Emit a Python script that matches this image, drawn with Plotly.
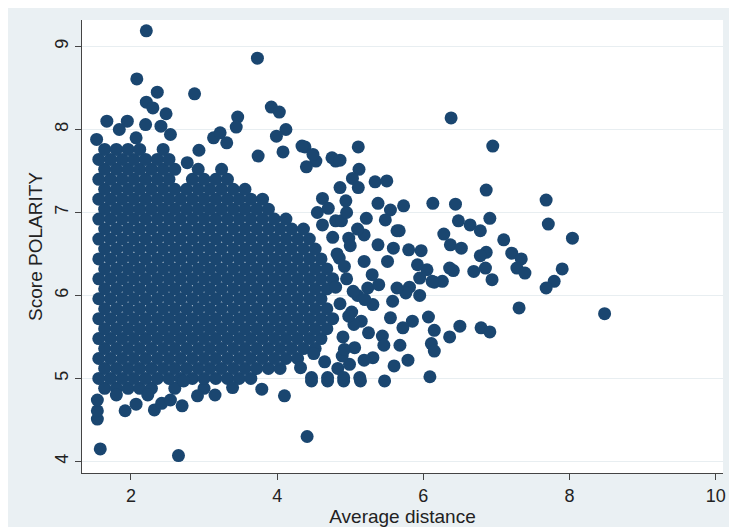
import plotly.graph_objects as go

core_rows = {
    4.88: [1.64, 1.8, 1.96, 2.12, 2.28, 2.6, 3.0],
    5.00: [1.56, 1.72, 1.88, 2.04, 2.2, 2.36, 2.52, 2.68, 2.84, 3.0, 3.16, 3.32, 3.48, 3.64],
    5.12: [1.64, 1.8, 1.96, 2.12, 2.28, 2.44, 2.6, 2.76, 2.92, 3.08, 3.24, 3.4, 3.56, 3.72, 3.88, 4.04],
    5.24: [1.56, 1.72, 1.88, 2.04, 2.2, 2.36, 2.52, 2.68, 2.84, 3.0, 3.16, 3.32, 3.48, 3.64, 3.8, 3.96, 4.12, 4.28],
    5.36: [1.64, 1.8, 1.96, 2.12, 2.28, 2.44, 2.6, 2.76, 2.92, 3.08, 3.24, 3.4, 3.56, 3.72, 3.88, 4.04, 4.2, 4.36, 4.52],
    5.48: [1.56, 1.72, 1.88, 2.04, 2.2, 2.36, 2.52, 2.68, 2.84, 3.0, 3.16, 3.32, 3.48, 3.64, 3.8, 3.96, 4.12, 4.28, 4.44, 4.6],
    5.60: [1.64, 1.8, 1.96, 2.12, 2.28, 2.44, 2.6, 2.76, 2.92, 3.08, 3.24, 3.4, 3.56, 3.72, 3.88, 4.04, 4.2, 4.36, 4.52, 4.68],
    5.72: [1.56, 1.72, 1.88, 2.04, 2.2, 2.36, 2.52, 2.68, 2.84, 3.0, 3.16, 3.32, 3.48, 3.64, 3.8, 3.96, 4.12, 4.28, 4.44, 4.6, 4.76],
    5.84: [1.64, 1.8, 1.96, 2.12, 2.28, 2.44, 2.6, 2.76, 2.92, 3.08, 3.24, 3.4, 3.56, 3.72, 3.88, 4.04, 4.2, 4.36, 4.52, 4.68],
    5.96: [1.56, 1.72, 1.88, 2.04, 2.2, 2.36, 2.52, 2.68, 2.84, 3.0, 3.16, 3.32, 3.48, 3.64, 3.8, 3.96, 4.12, 4.28, 4.44, 4.6],
    6.08: [1.64, 1.8, 1.96, 2.12, 2.28, 2.44, 2.6, 2.76, 2.92, 3.08, 3.24, 3.4, 3.56, 3.72, 3.88, 4.04, 4.2, 4.36, 4.52, 4.68],
    6.20: [1.56, 1.72, 1.88, 2.04, 2.2, 2.36, 2.52, 2.68, 2.84, 3.0, 3.16, 3.32, 3.48, 3.64, 3.8, 3.96, 4.12, 4.28, 4.44, 4.6, 4.76],
    6.32: [1.64, 1.8, 1.96, 2.12, 2.28, 2.44, 2.6, 2.76, 2.92, 3.08, 3.24, 3.4, 3.56, 3.72, 3.88, 4.04, 4.2, 4.36, 4.52, 4.68],
    6.44: [1.56, 1.72, 1.88, 2.04, 2.2, 2.36, 2.52, 2.68, 2.84, 3.0, 3.16, 3.32, 3.48, 3.64, 3.8, 3.96, 4.12, 4.28, 4.44, 4.6],
    6.56: [1.64, 1.8, 1.96, 2.12, 2.28, 2.44, 2.6, 2.76, 2.92, 3.08, 3.24, 3.4, 3.56, 3.72, 3.88, 4.04, 4.2, 4.36, 4.52],
    6.68: [1.56, 1.72, 1.88, 2.04, 2.2, 2.36, 2.52, 2.68, 2.84, 3.0, 3.16, 3.32, 3.48, 3.64, 3.8, 3.96, 4.12, 4.28, 4.44],
    6.80: [1.64, 1.8, 1.96, 2.12, 2.28, 2.44, 2.6, 2.76, 2.92, 3.08, 3.24, 3.4, 3.56, 3.72, 3.88, 4.04, 4.2, 4.36],
    6.92: [1.56, 1.72, 1.88, 2.04, 2.2, 2.36, 2.52, 2.68, 2.84, 3.0, 3.16, 3.32, 3.48, 3.64, 3.8, 3.96, 4.12],
    7.04: [1.64, 1.8, 1.96, 2.12, 2.28, 2.44, 2.6, 2.76, 2.92, 3.08, 3.24, 3.4, 3.56, 3.72, 3.88],
    7.16: [1.56, 1.72, 1.88, 2.04, 2.2, 2.36, 2.52, 2.68, 2.84, 3.0, 3.16, 3.32, 3.48, 3.64, 3.8],
    7.28: [1.64, 1.8, 1.96, 2.12, 2.28, 2.44, 2.6, 2.76, 2.92, 3.08, 3.24, 3.4, 3.56],
    7.40: [1.56, 1.72, 1.88, 2.04, 2.2, 2.36, 2.52, 2.84, 3.0, 3.16, 3.32],
    7.52: [1.64, 1.8, 1.96, 2.12, 2.28, 2.44, 2.6, 2.92, 3.24],
    7.64: [1.56, 1.72, 1.88, 2.04, 2.2, 2.36, 2.52],
    7.76: [1.64, 1.8, 1.96, 2.12, 2.44],
}

# Scattered points outside the solid area (x, y)
scatter_x = [
    6.38, 6.95, 6.86, 7.68, 6.13, 6.44, 6.91, 7.71, 6.48, 6.64, 6.78, 6.28, 8.04, 7.10, 6.37,
    6.52, 7.21, 7.34, 6.86, 6.78, 6.85, 6.69, 7.28, 7.39, 7.90, 6.36, 6.41, 6.94, 7.79, 7.68,
    6.26, 6.15, 7.31, 8.48, 6.50, 6.79, 6.91, 6.36, 6.15, 6.11, 6.15, 6.09, 6.07, 5.85, 5.72,
    5.68, 5.79, 5.60, 5.47, 5.14, 4.91, 4.69, 4.47, 5.95, 5.81, 5.76, 5.95, 6.12, 6.05, 5.92,
    5.97, 5.80, 5.73, 5.67, 5.11, 5.12, 4.80, 4.53, 4.38, 5.03, 5.11, 5.34, 5.50, 5.55, 5.38,
    4.94, 4.86, 5.22, 5.48, 5.64, 5.59, 5.51, 5.64, 5.58, 5.55, 5.44, 5.46, 5.31, 4.99, 4.83,
    4.89, 5.19, 5.06, 5.19, 5.24, 5.31, 5.15, 5.39, 5.38, 4.98, 4.80, 4.62, 5.19,
    2.21, 3.73, 2.08, 2.87, 2.36, 2.21, 3.92, 4.03, 2.48, 2.30, 3.46, 3.44, 4.12, 3.99, 3.13,
    3.22, 3.31, 4.34, 4.08, 2.93, 1.67, 1.95, 1.84, 1.53, 2.41, 2.54, 2.20, 2.07, 2.77, 4.49,
    4.75, 4.86, 3.74, 4.40,
    1.58, 2.65, 4.41, 1.54, 1.54, 1.54, 1.92, 2.32, 2.42, 2.54, 2.70, 2.23, 2.07, 2.91, 3.15,
    3.39, 3.79, 4.10, 4.32, 4.47, 4.69, 4.91, 5.13, 2.72, 1.80,
    4.90, 5.02, 4.95, 5.10, 4.85, 5.00, 4.92, 5.05, 4.88, 5.20, 4.95, 5.30, 5.10, 5.25,
    4.80, 4.86, 4.92, 4.82, 4.98, 4.76, 5.04, 4.70, 4.62, 4.55, 4.50, 4.65,
]
scatter_y = [
    8.14, 7.80, 7.27, 7.15, 7.11, 7.10, 6.93, 6.86, 6.90, 6.85, 6.78, 6.74, 6.69, 6.67, 6.61,
    6.57, 6.51, 6.44, 6.52, 6.48, 6.33, 6.29, 6.33, 6.27, 6.32, 6.33, 6.30, 6.19, 6.17, 6.09,
    6.17, 6.16, 5.85, 5.78, 5.63, 5.61, 5.56, 5.50, 5.58, 5.42, 5.33, 5.02, 5.74, 5.69, 5.61,
    5.40, 5.22, 5.15, 4.97, 4.97, 4.97, 4.97, 4.97, 6.00, 6.10, 6.03, 6.21, 6.17, 6.31, 6.37,
    6.54, 6.55, 7.08, 6.78, 7.79, 7.52, 7.62, 7.62, 7.79, 7.41, 7.30, 7.37, 7.38, 7.03, 7.11,
    7.14, 7.30, 6.93, 6.91, 6.78, 6.57, 6.41, 6.09, 5.93, 5.73, 5.51, 5.40, 5.25, 5.17, 5.12,
    5.27, 5.22, 5.37, 6.41, 6.09, 5.89, 5.69, 6.13, 6.61, 6.69, 6.90, 7.17, 6.73,
    9.19, 8.86, 8.61, 8.43, 8.45, 8.33, 8.27, 8.21, 8.19, 8.26, 8.15, 8.03, 8.00, 7.92, 7.90,
    7.96, 7.84, 7.80, 7.73, 7.75, 8.10, 8.10, 8.00, 7.88, 8.04, 7.94, 8.06, 7.90, 7.60, 7.70,
    7.66, 7.63, 7.68, 7.55,
    4.15, 4.07, 4.30, 4.51, 4.61, 4.74, 4.61, 4.62, 4.70, 4.74, 4.67, 4.80, 4.69, 4.79, 4.80,
    4.89, 4.87, 4.79, 5.13, 5.01, 5.01, 5.01, 5.01, 4.97, 4.80,
    5.50, 5.80, 6.20, 6.00, 6.45, 6.60, 5.35, 5.65, 6.90, 5.95, 7.00, 6.25, 6.80, 5.55,
    6.10, 5.90, 6.35, 6.50, 5.75, 6.70, 6.05, 7.05, 6.85, 7.00, 5.30, 5.20,
]

xs, ys = [], []
for y, row in core_rows.items():
    xs += row
    ys += [y] * len(row)
xs += scatter_x
ys += scatter_y

fig = go.Figure(
    go.Scatter(
        x=xs, y=ys, mode="markers",
        marker=dict(color="#1a4670", size=13, line=dict(width=0)),
        hoverinfo="skip",
    )
)

fig.update_layout(
    width=737, height=527,
    paper_bgcolor="#eaf0f3", plot_bgcolor="white",
    margin=dict(l=74, r=22, t=12, b=62),
    showlegend=False,
    font=dict(family="Arial, Liberation Sans", size=16, color="#222"),
)
fig.update_xaxes(
    range=[1.33, 10.1], tickvals=[2, 4, 6, 8, 10], showgrid=False, zeroline=False,
    showline=True, linecolor="#444", ticks="outside", ticklen=6, tickcolor="#444",
    tickfont=dict(size=18), title=dict(text="Average distance", standoff=0),
)
fig.update_yaxes(
    range=[3.86, 9.32], tickvals=[4, 5, 6, 7, 8, 9], tickangle=-90,
    showgrid=True, gridcolor="#e8eef1", zeroline=False,
    showline=True, linecolor="#444", ticks="outside", ticklen=6, tickcolor="#444",
    tickfont=dict(size=18), title=dict(text="Score POLARITY", standoff=4),
)

fig.write_html("out.html")
